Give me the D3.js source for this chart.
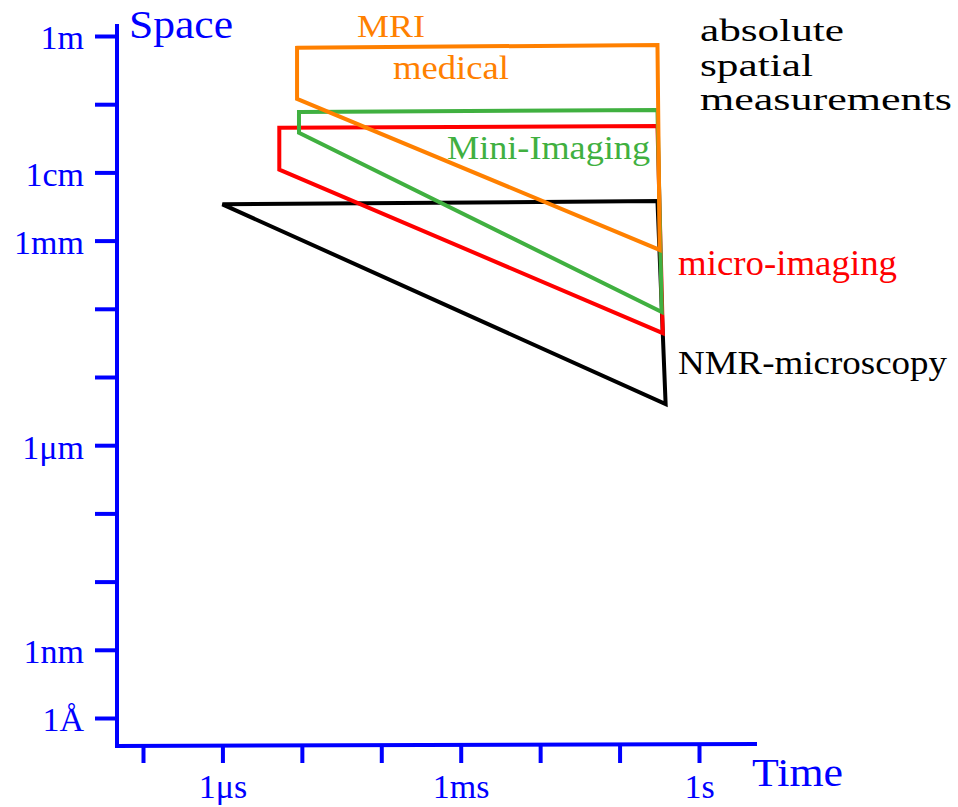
<!DOCTYPE html>
<html>
<head>
<meta charset="utf-8">
<script src="https://cdn.jsdelivr.net/npm/d3@7"></script>
<style>
  body { margin: 0; background: #fff; }
</style>
</head>
<body>
<svg id="chart"></svg>
<script>
// time ticks (seconds) and their labels
const timeTicks = [1e-7, 1e-6, 1e-5, 1e-4, 1e-3, 1e-2, 1e-1, 1]
const timeLabels = ['', '1μs', '', '', '1ms', '', '', '1s']

// space ticks (metres) and their labels
const spaceTicks = [1, 1e-1, 1e-2, 1e-3, 1e-4, 1e-5, 1e-6, 1e-7, 1e-8, 1e-9, 1e-10]
const spaceLabels = ['1m', '', '1cm', '1mm', '', '', '1μm', '', '', '1nm', '1Å']

// regions: [time (s), size (m)] corners
const nmrMicroscopy = [[1e-6, 3.4e-3], [0.3, 3.8e-3], [0.38, 4e-6]]
const microImaging = [[5.2e-6, 0.045], [0.3, 0.048], [0.35, 4.4e-5], [5.2e-6, 0.011]]
const miniImaging = [[9.2e-6, 0.077], [0.3, 0.082], [0.34, 9e-5], [9.2e-6, 0.038]]
const mriMedical = [[8.7e-6, 0.67], [0.3, 0.74], [0.32, 7.3e-4], [8.7e-6, 0.12]]

const blue = '#0000ff'
const serif = '"Liberation Serif", "Times New Roman", serif'

const width = 958
const height = 807

const svg = d3.select('svg#chart')
  .attr('width', width)
  .attr('height', height)

svg.append('rect').attr('width', width).attr('height', height).attr('fill', '#fff')

const x = d3.scaleLog().domain([1e-7, 1]).range([143, 699])
const y = d3.scaleLog().domain([1, 1e-10]).range([36, 718])

const axisX = 117
const axisY = 746

// axis lines
svg.append('line')
  .attr('x1', axisX).attr('x2', axisX)
  .attr('y1', 24).attr('y2', axisY + 2)
  .attr('stroke', blue).attr('stroke-width', 4)
svg.append('line')
  .attr('x1', axisX - 2).attr('x2', 757)
  .attr('y1', axisY).attr('y2', axisY - 2)
  .attr('stroke', blue).attr('stroke-width', 4)

const yAxis = svg.append('g')
  .attr('transform', `translate(${axisX},0)`)
  .call(d3.axisLeft(y)
    .tickValues(spaceTicks)
    .tickSize(22)
    .tickPadding(11)
    .tickFormat((d, i) => spaceLabels[i]))
yAxis.attr('font-family', serif)
yAxis.select('.domain').remove()
yAxis.selectAll('line').attr('stroke', blue).attr('stroke-width', 4)
yAxis.selectAll('text')
  .attr('fill', blue)
  .attr('font-size', 34)
  .attr('font-family', serif)
  .attr('dy', '0.38em')

const xAxis = svg.append('g')
  .attr('transform', `translate(0,${axisY})`)
  .call(d3.axisBottom(x)
    .tickValues(timeTicks)
    .tickSize(17)
    .tickPadding(11)
    .tickFormat((d, i) => timeLabels[i]))
xAxis.attr('font-family', serif)
xAxis.select('.domain').remove()
xAxis.selectAll('line').attr('stroke', blue).attr('stroke-width', 4)
xAxis.selectAll('text')
  .attr('fill', blue)
  .attr('font-size', 34)
  .attr('font-family', serif)

// axis titles
svg.append('text').text('Space')
  .attr('x', 129).attr('y', 38)
  .attr('font-family', serif)
  .attr('font-size', 41).attr('fill', blue)
  .attr('textLength', 104).attr('lengthAdjust', 'spacingAndGlyphs')
svg.append('text').text('Time')
  .attr('x', 752).attr('y', 786)
  .attr('font-family', serif)
  .attr('font-size', 41).attr('fill', blue)
  .attr('textLength', 91).attr('lengthAdjust', 'spacingAndGlyphs')

// regions
const line = d3.line().x(d => x(d[0])).y(d => y(d[1]))
const regions = [
  { pts: nmrMicroscopy, color: '#000000' },
  { pts: microImaging, color: '#ff0000' },
  { pts: miniImaging, color: '#40b040' },
  { pts: mriMedical, color: '#ff8000' }
]
svg.append('g')
  .selectAll('path')
  .data(regions)
  .enter().append('path')
  .attr('d', d => line(d.pts) + 'Z')
  .attr('fill', 'none')
  .attr('stroke', d => d.color)
  .attr('stroke-width', 4)
  .attr('stroke-linejoin', 'miter')

// labels
const notes = [
  { t: 'MRI', x: 357, y: 37, size: 32, w: 68, c: '#ff8000' },
  { t: 'medical', x: 393, y: 79, size: 34, w: 116, c: '#ff8000' },
  { t: 'Mini-Imaging', x: 447, y: 159, size: 33, w: 203, c: '#40b040' },
  { t: 'micro-imaging', x: 678, y: 275, size: 36, w: 219, c: '#ff0000' },
  { t: 'NMR-microscopy', x: 678, y: 374, size: 34, w: 269, c: '#000000' },
  { t: 'absolute', x: 700, y: 41, size: 32, w: 144, c: '#000000' },
  { t: 'spatial', x: 700, y: 76, size: 32, w: 113, c: '#000000' },
  { t: 'measurements', x: 700, y: 110, size: 32, w: 252, c: '#000000' }
]
svg.append('g')
  .selectAll('text')
  .data(notes)
  .enter().append('text')
  .text(d => d.t)
  .attr('x', d => d.x)
  .attr('y', d => d.y)
  .attr('font-family', serif)
  .attr('font-size', d => d.size)
  .attr('fill', d => d.c)
  .attr('textLength', d => d.w)
  .attr('lengthAdjust', 'spacingAndGlyphs')
</script>
</body>
</html>
